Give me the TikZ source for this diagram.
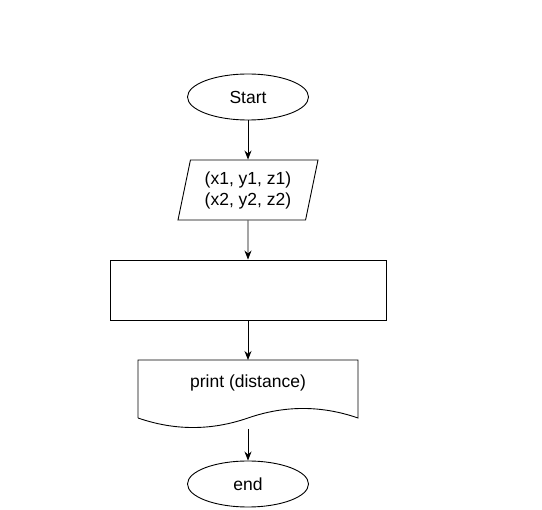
\documentclass[tikz,border=0pt]{standalone}
\usepackage{fontspec}
\setmainfont{Liberation Sans}
\usetikzlibrary{arrows.meta, shapes.geometric}

\tikzset{
  flow/.style={draw=black, line width=0.9pt, font=\fontsize{17.5}{21}\selectfont, align=center, inner sep=0pt},
  term/.style={flow, ellipse, minimum width=121pt, minimum height=46pt},
  io/.style={flow, trapezium, trapezium left angle=71.57, trapezium right angle=108.43, trapezium stretches body, minimum width=140pt, minimum height=60pt},
  proc/.style={flow, rectangle, minimum width=276pt, minimum height=60pt},
  arr/.style={-{Stealth[length=9pt,width=7pt]}, line width=0.9pt}
}

\begin{document}
\begin{tikzpicture}[x=1pt, y=-1pt]
\useasboundingbox (0,0) rectangle (542,510);
\node[term] (start) at (248,97) {Start};
\node[io] (input) at (248,190) {(x1, y1, z1)\\(x2, y2, z2)};
\node[proc] (calc) at (248,290) {};
\node[flow, draw=none, minimum width=220pt, minimum height=68pt, anchor=north] (output) at (248,360) {};
\node[font=\fontsize{17.5}{21}\selectfont] (outtext) at (248,383) {print (distance)};
\node[term] (end) at (248,484) {end};
% document shape
\draw[line width=0.9pt] (138,418) -- (138,360) -- (358,360) -- (358,418)
  .. controls (321.3,405.3) and (284.7,405.3) .. (248,418)
  .. controls (211.3,430.7) and (174.7,430.7) .. (138,418);
\draw[arr] (start) -- (input);
\draw[arr] (input) -- (calc);
\draw[arr] (calc) -- (output);
\draw[arr] (output) -- (end);
\end{tikzpicture}
\end{document}
